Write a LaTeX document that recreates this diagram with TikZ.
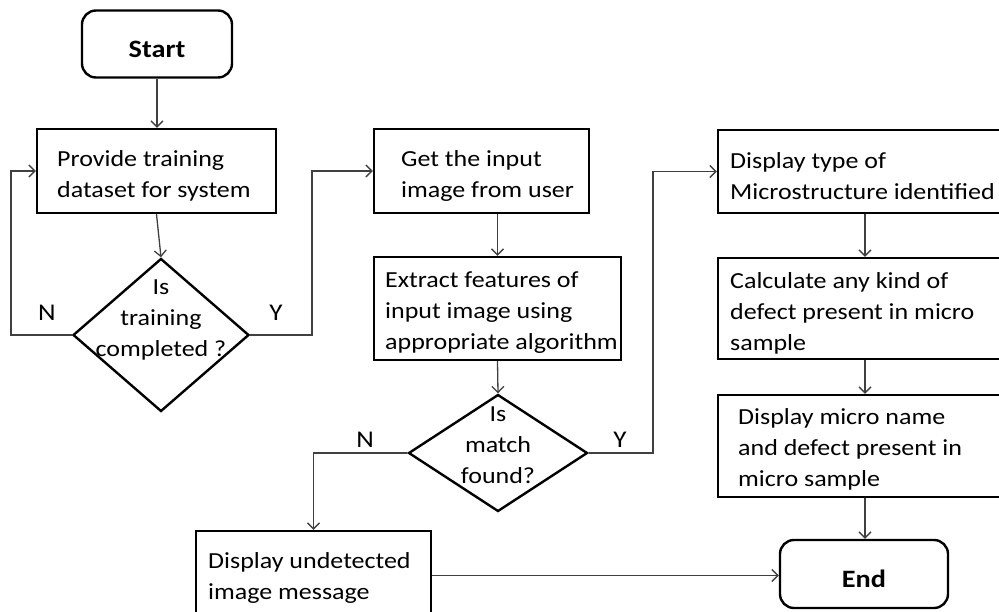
\documentclass[tikz,border=0pt]{standalone}
\usepackage{fontspec}
\setmainfont{Carlito}[FakeStretch=1.13]
\usetikzlibrary{arrows.meta,shapes.geometric}
\begin{document}
\begin{tikzpicture}[x=1pt,y=-1pt,
  box/.style={draw=black, line width=2.4pt, rectangle, inner sep=0pt},
  term/.style={box, rounded corners=14pt, font=\fontsize{25}{31}\selectfont\bfseries, text height=27pt, text depth=0pt},
  dec/.style={draw=black, line width=2.4pt, diamond, inner sep=0pt},
  txt/.style={font=\fontsize{23}{31}\selectfont, align=left, inner sep=0pt, text=black},
  ctxt/.style={txt, align=center},
  conn/.style={draw=black!75, line width=1.3pt, -{Straight Barb[length=6pt,width=12pt]}},
  lab/.style={font=\fontsize{24}{26}\selectfont, inner sep=0pt}]
\useasboundingbox (0,0) rectangle (999,611);
% terminals
\node[term, minimum width=150pt, minimum height=67pt] (start) at (157,44) {Start};
\node[term, minimum width=168pt, minimum height=68pt] (end) at (864,574) {End};
% boxes
\node[box, minimum width=239pt, minimum height=84pt] (b1) at (156.5,171) {};
\node[box, minimum width=215pt, minimum height=84pt] (b2) at (481.5,171) {};
\node[box, minimum width=247pt, minimum height=103pt] (b3) at (497.5,308.5) {};
\node[box, minimum width=294pt, minimum height=83pt] (b5) at (865,171.5) {};
\node[box, minimum width=294pt, minimum height=101pt] (b6) at (865,308.5) {};
\node[box, minimum width=294pt, minimum height=102pt] (b7) at (865,446) {};
\node[box, minimum width=235pt, minimum height=89pt] (b4) at (313.5,575.5) {};
% box texts
\node[txt, anchor=west] (t1) at (57,176) {Provide training\\dataset for system};
\node[txt, anchor=west] (t2) at (401,176) {Get the input\\image from user};
\node[txt, anchor=west] (t3) at (385,313) {Extract features of\\input image using\\appropriate algorithm};
\node[txt, anchor=west] (t5) at (730,176) {Display type of\\Microstructure identified};
\node[txt, anchor=west] (t6) at (730,313) {Calculate any kind of\\defect present in micro\\sample};
\node[txt, anchor=west] (t7) at (738,449) {Display micro name\\and defect present in\\micro sample};
\node[txt, anchor=west] (t4) at (208,578) {Display undetected\\image message};
% decisions
\node[dec, minimum width=176pt, minimum height=153pt] (d1) at (161,335) {};
\node[dec, minimum width=179pt, minimum height=117pt] (d2) at (498,453) {};
\node[ctxt] (d1t) at (161,319.5) {Is\\training\\completed ?};
\node[ctxt] (d2t) at (498,445.5) {Is\\match\\found?};
% branch labels
\node[lab] (n1) at (47,313) {N};
\node[lab] (y1) at (276,313) {Y};
\node[lab] (n2l) at (365,440) {N};
\node[lab] (y2l) at (620,440) {Y};
% connectors
\coordinate (nl) at (11,335);
\coordinate (yr) at (312,335);
\coordinate (y2) at (653,453);
\draw[conn] (start.south) -- (start.south |- b1.north);
\draw[conn] (b1.south) -- (d1.north);
\draw[conn] (d1.west) -- (nl) |- (b1.west);
\draw[conn] (d1.east) -- (yr) |- (b2.west);
\draw[conn] (b2.south -| b3.north) -- (b3.north);
\draw[conn] (b3.south) -- (d2.north);
\draw[conn] (d2.west) -| (b4.north);
\draw[conn] (d2.east) -- (y2) |- (b5.west);
\draw[conn] (b5.south) -- (b6.north);
\draw[conn] (b6.south) -- (b7.north);
\draw[conn] (b7.south) -- (b7.south |- end.north);
\draw[conn] (b4.east) -- (b4.east -| end.west);
\end{tikzpicture}
\end{document}
